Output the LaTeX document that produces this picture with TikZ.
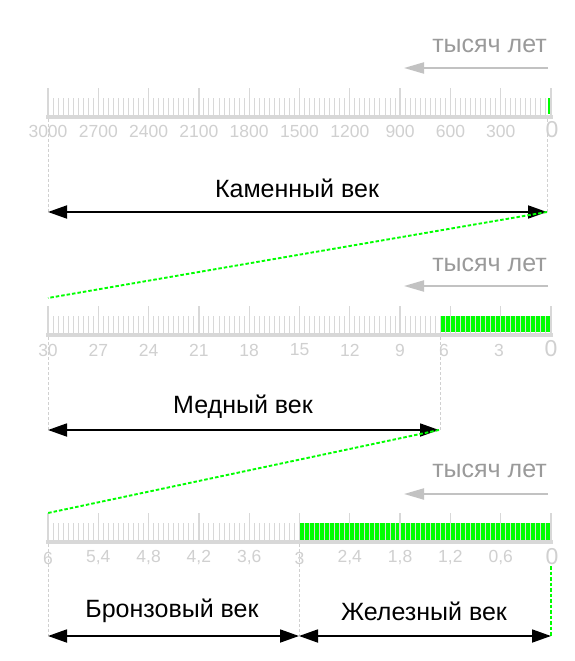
\documentclass[tikz,border=0pt]{standalone}
\usepackage{fontspec}
\setmainfont{Liberation Sans}
\usetikzlibrary{arrows.meta}
\definecolor{rulergray}{HTML}{D8D8D8}
\definecolor{labgray}{HTML}{D0D0D0}
\definecolor{unitgray}{HTML}{9A9A9A}
\definecolor{arrgray}{HTML}{C2C2C2}
\definecolor{guidegray}{HTML}{D0D0D0}
\definecolor{lime}{HTML}{00FF00}
\tikzset{
  minortick/.style={draw=rulergray, line width=1pt},
  majortick/.style={draw=rulergray, line width=1.3pt},
  baseline/.style={draw=rulergray, line width=4pt},
  greenbar/.style={fill=lime, draw=none},
  lab/.style={text=labgray, font=\fontsize{17.5}{17.5}\selectfont, inner sep=0pt, anchor=center},
  zerolab/.style={text=labgray, font=\fontsize{23}{23}\selectfont, inner sep=0pt, anchor=center},
  unit/.style={text=unitgray, font=\fontsize{25}{25}\selectfont, inner sep=0pt, anchor=east},
  unitarrow/.style={draw=arrgray, line width=2pt, -{Triangle[length=20pt,width=11pt]}},
  period/.style={draw=black, line width=1.8pt, {Triangle[length=19pt,width=13pt]}-{Triangle[length=19pt,width=13pt]}},
  periodtext/.style={text=black, font=\fontsize{25}{25}\selectfont, inner sep=0pt, anchor=center},
  guide/.style={draw=guidegray, line width=1pt, dash pattern=on 3pt off 2pt},
  zoomline/.style={draw=lime, line width=1.9pt, dash pattern=on 3.5pt off 2pt}
}
\begin{document}
\begin{tikzpicture}[x=1pt,y=-1pt]
\useasboundingbox (0,0) rectangle (574,661);
\fill[white] (0,0) rectangle (574,661);

% ---------------- ruler 1 ----------------
\fill[greenbar] (548,98) rectangle (551,114);
\foreach \i in {0,...,100} \draw[minortick] ({48+5.03*\i},117) -- ({48+5.03*\i},98);
\foreach \i in {0,...,10} \draw[majortick] ({48+50.3*\i},117) -- ({48+50.3*\i},88);
\draw[baseline] (46,117) -- (553,117);
\foreach \v [count=\i from 0] in {3000,2700,2400,2100,1800,1500,1200,900,600,300}
  \node[lab] (ra\i) at ({48+50.3*\i},131) {\v};
\node[zerolab] (razero) at (552,130) {0};
\node[unit] (unita) at (547,46) {тысяч лет};
\coordinate (ua1) at (548,68);
\coordinate (ua2) at (404,68);
\draw[unitarrow] (ua1) -- (ua2);

\coordinate (pa1) at (48,212);
\coordinate (pa2) at (547,212);
\coordinate (ga1) at (48,119);
\coordinate (ga2) at (547,119);
\draw[guide] (ga1) -- (pa1);
\draw[guide] (ga2) -- (pa2);
\draw[period] (pa1) -- (pa2);
\node[periodtext] (stone) at (297,188) {Каменный век};

% ---------------- ruler 2 ----------------
\fill[greenbar] (441,316) rectangle (551,332);
\foreach \i in {0,...,100} \draw[minortick] ({48+5.03*\i},335) -- ({48+5.03*\i},316);
\foreach \i in {0,...,10} \draw[majortick] ({48+50.3*\i},335) -- ({48+50.3*\i},306);
\draw[baseline] (46,335) -- (553,335);
\foreach \v [count=\i from 0] in {30,27,24,21,18,15,12,9}
  \node[lab] (rb\i) at ({48+50.3*\i},350) {\v};
\node[lab] (rbsix) at (444,350) {6};
\node[lab] (rbthree) at (499,350) {3};
\node[zerolab] (rbzero) at (551,349) {0};
\node[unit] (unitb) at (547,265) {тысяч лет};
\coordinate (ub1) at (548,286);
\coordinate (ub2) at (404,286);
\draw[unitarrow] (ub1) -- (ub2);

\coordinate (pb1) at (48,430);
\coordinate (pb2) at (439,430);
\coordinate (gb1) at (48,337);
\coordinate (gb2) at (440,337);
\draw[guide] (gb1) -- (pb1);
\draw[guide] (gb2) -- (440,430);
\draw[period] (pb1) -- (pb2);
\node[periodtext] (copper) at (243,407) {Медный век};

% ---------------- ruler 3 ----------------
\fill[greenbar] (299,523) rectangle (551,540);
\foreach \i in {0,...,100} \draw[minortick] ({48+5.03*\i},542) -- ({48+5.03*\i},523);
\foreach \i in {0,...,10} \draw[majortick] ({48+50.3*\i},542) -- ({48+50.3*\i},513);
\draw[baseline] (46,542) -- (553,542);
\foreach \v [count=\i from 0] in {6,{5,4},{4,8},{4,2},{3,6},3,{2,4},{1,8},{1,2},{0,6}}
  \node[lab] (rc\i) at ({48+50.3*\i},558) {\v};
\node[zerolab] (rczero) at (552,557) {0};
\node[unit] (unitc) at (547,471) {тысяч лет};
\coordinate (uc1) at (548,494);
\coordinate (uc2) at (404,494);
\draw[unitarrow] (uc1) -- (uc2);

\coordinate (pc1) at (48,636);
\coordinate (pc2) at (299,636);
\coordinate (pc3) at (551,636);
\coordinate (gc1) at (48,544);
\coordinate (gc2) at (299,544);
\coordinate (gc3) at (551,566);
\draw[guide] (gc1) -- (pc1);
\draw[guide] (gc2) -- (pc2);
\draw[zoomline] (gc3) -- (pc3);
\draw[period] (pc1) -- (pc2);
\draw[period] (pc2) -- (pc3);
\node[periodtext] (bronze) at (172,611) {Бронзовый век};
\node[periodtext] (iron) at (424,611) {Железный век};

% ---------------- zoom lines ----------------
\coordinate (za1) at (48,298);
\coordinate (zb1) at (48,513);
\draw[zoomline] (pa2) -- (za1);
\draw[zoomline] (pb2) -- (zb1);
\end{tikzpicture}
\end{document}
